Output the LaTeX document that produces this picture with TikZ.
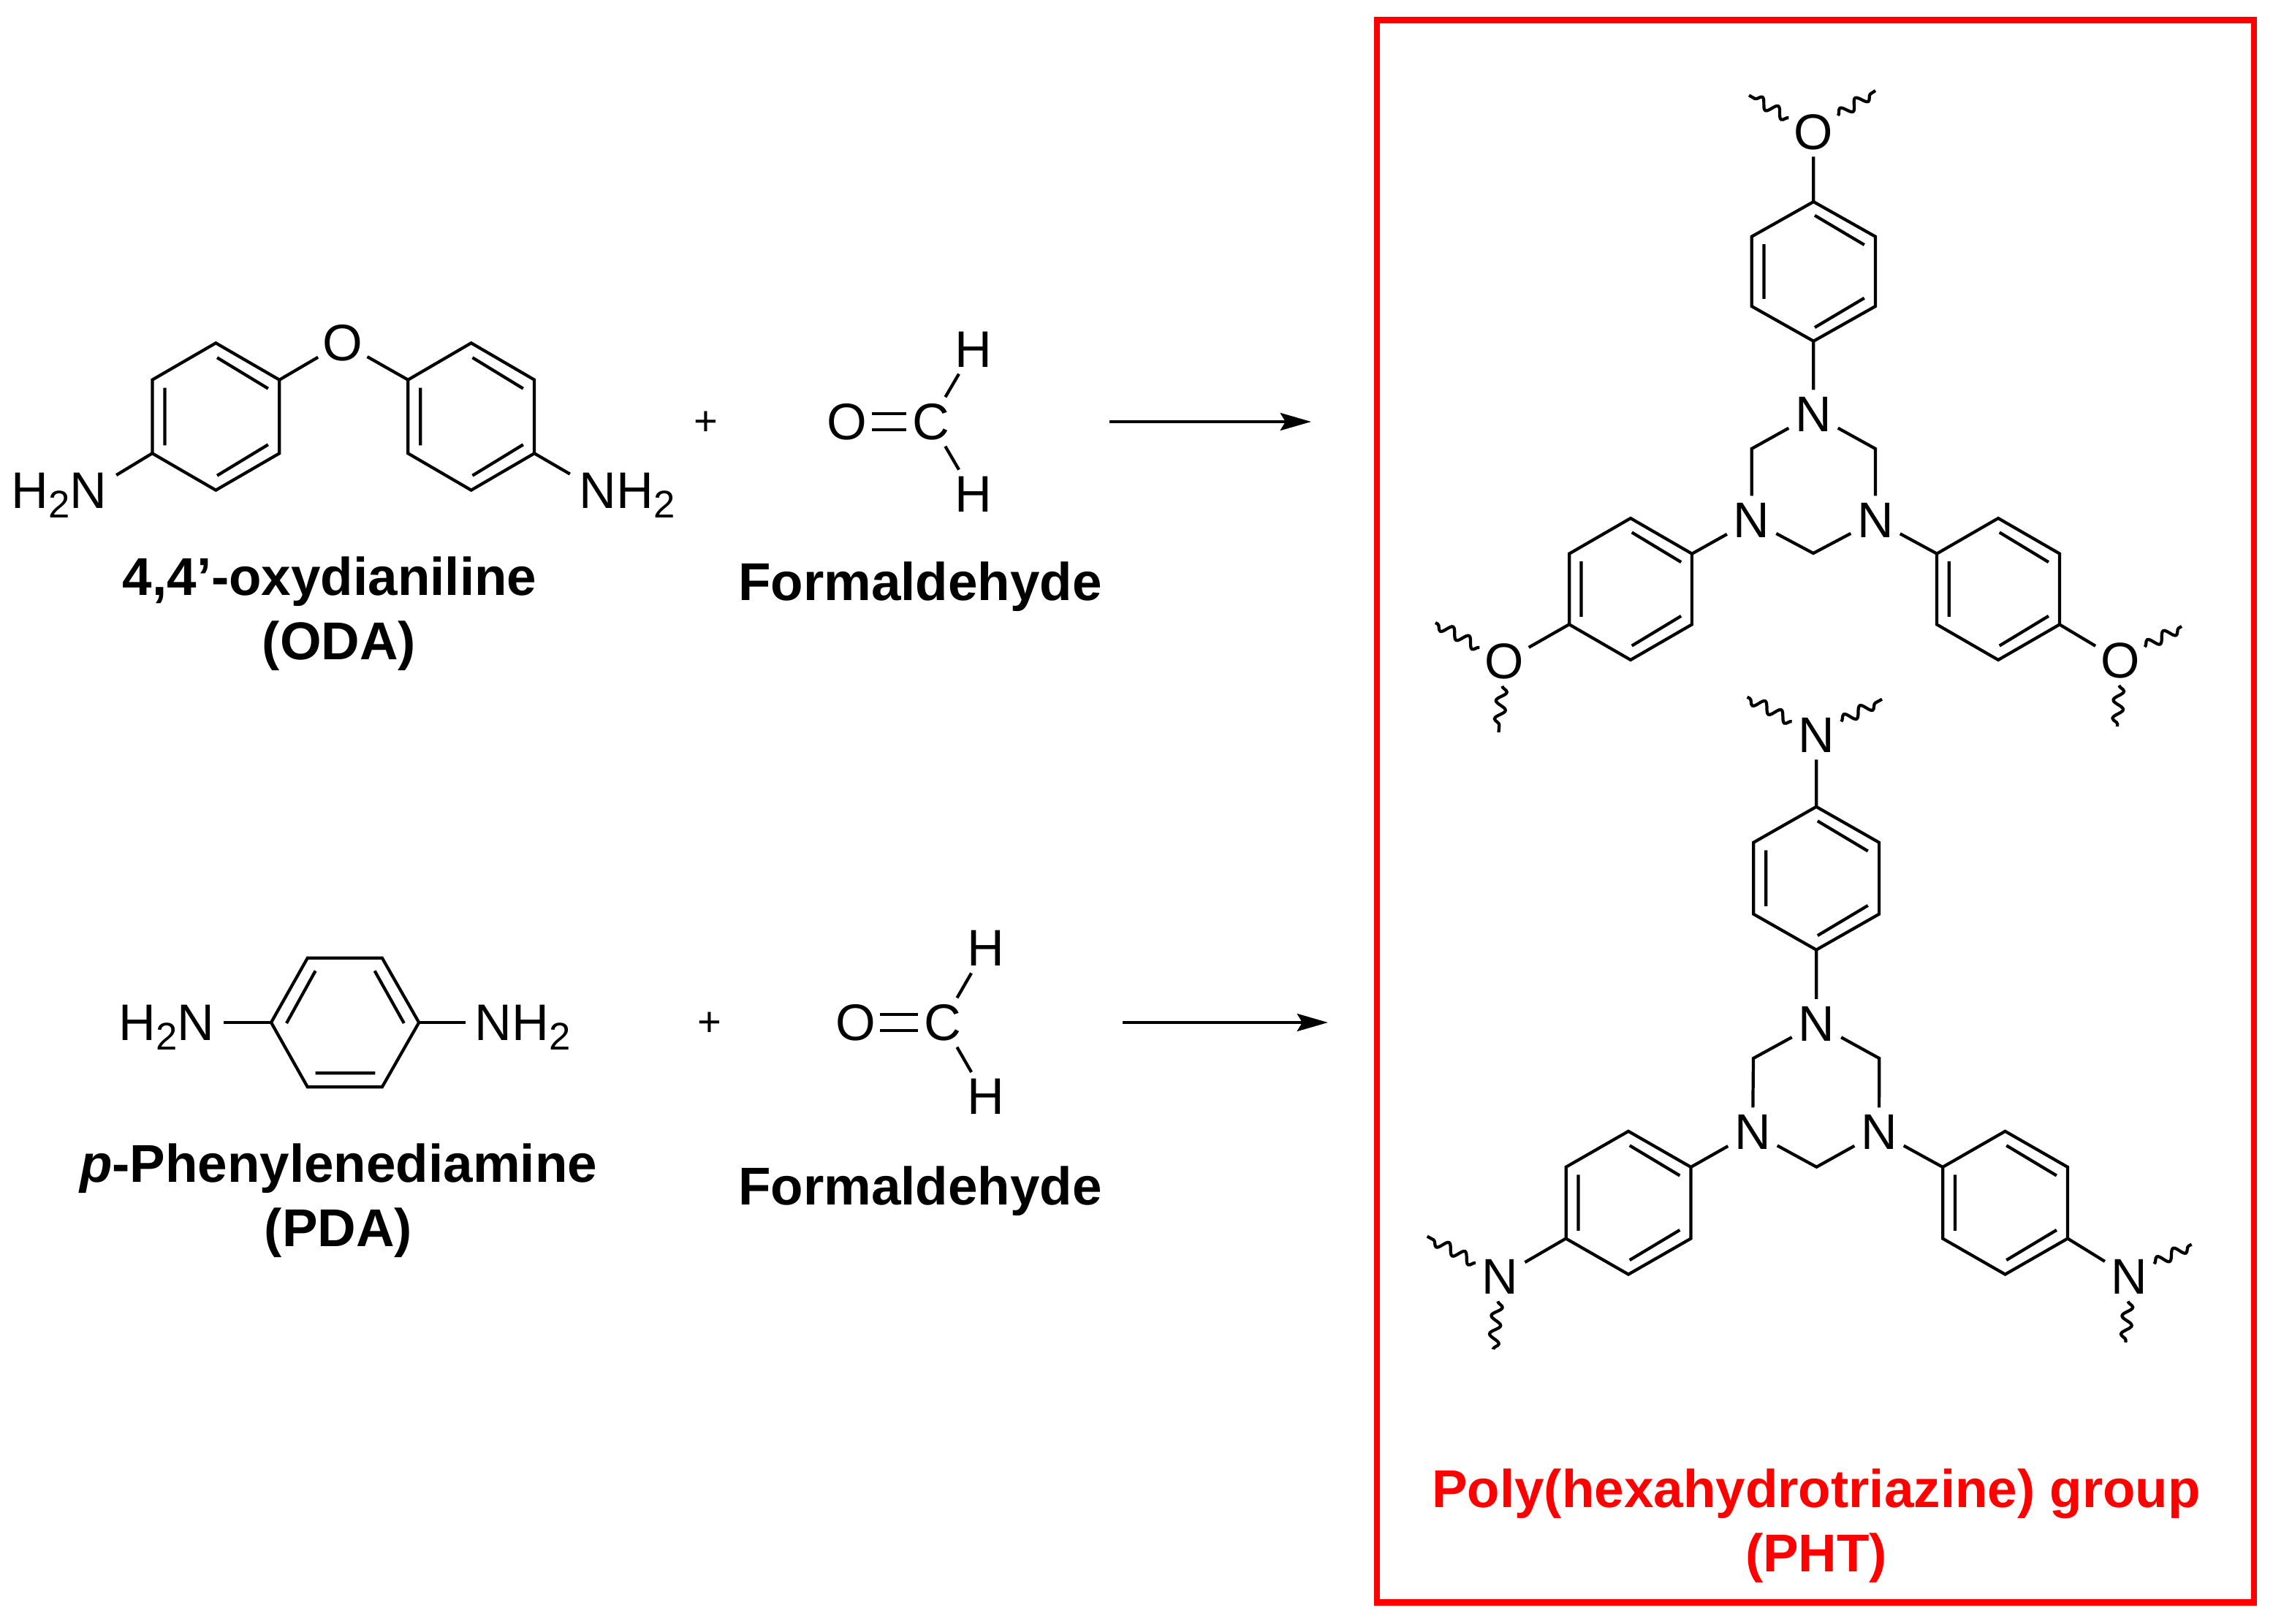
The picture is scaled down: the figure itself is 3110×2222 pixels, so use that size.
\documentclass[tikz,border=0pt]{standalone}
\usepackage{fontspec}
\setmainfont{Liberation Sans}
\usetikzlibrary{arrows.meta}
\usetikzlibrary{decorations.pathmorphing}
\newcommand{\lowtwo}{\raisebox{-3.7pt}{\fontsize{15}{15}\selectfont 2}}
\tikzset{bond/.style={line width=1.2pt, line join=miter}}
\tikzset{dbond/.style={bond, double, double distance=0.174cm}}
\tikzset{wavy/.style={line width=1.2pt, decorate, decoration={snake, amplitude=0.07cm, segment length=0.25cm}}}
\tikzset{atom/.style={inner sep=0pt, minimum size=0.66cm, font=\fontsize{20}{20}\selectfont}}
\tikzset{atomp/.style={atom, font=\fontsize{19.5}{19.5}\selectfont}}
\tikzset{amino/.style={inner sep=0.12cm, text depth=0pt, font=\fontsize{20}{20}\selectfont}}
\tikzset{plus/.style={inner sep=0pt, font=\fontsize{16}{16}\selectfont}}
\tikzset{cname/.style={inner sep=0pt, text height=15.4pt, text depth=4.3pt, font=\bfseries\fontsize{20.7}{24}\selectfont}}
\tikzset{reaction/.style={line width=1.3pt, -{Stealth[length=12pt, width=6.8pt, inset=2pt]}}}
\tikzset{phenyl/.pic={
   \coordinate (-t) at (0,-1);
   \coordinate (-ur) at (1,-0.5);
   \coordinate (-lr) at (1,0.5);
   \coordinate (-b) at (0,1);
   \coordinate (-ll) at (-1,0.5);
   \coordinate (-ul) at (-1,-0.5);
   \draw[bond] (-t) -- (-ur) -- (-lr) -- (-b) -- (-ll) -- (-ul) -- cycle;
   \draw[bond] (0.02,-0.8) -- (0.82,-0.38) (-0.8,-0.39) -- (-0.8,0.39) (0.02,0.8) -- (0.82,0.38);
}}

\begin{document}
\begin{tikzpicture}[x=0.01cm,y=-0.01cm,node distance=0.88cm]
   \useasboundingbox (0,0) rectangle (3110,2222);

   % ODA
   \pic[xscale=87.3,yscale=100.9] (odal) at (295.3,570) {phenyl};
   \pic[xscale=86.7,yscale=100.9] (odar) at (644.7,570) {phenyl};
   \node[atom] (Oo) at (468.8,469) {O};
   \node[amino] (Hl) at (81,671) {H\lowtwo N};
   \node[amino] (Hr) at (858,671) {NH\lowtwo};
   \path[bond]
      (odal-ur) edge (Oo)
      (Oo) edge (odar-ul)
      (Hl.15) edge (odal-ll)
      (Hr.164) edge (odar-lr);
   \node[plus] (plusa) at (966,579) {+};
   \node[cname] (odaname) at (451,794.6) {4,4’-oxydianiline};
   \node[cname] (odaabbr) [below of=odaname,xshift=0.13cm] {(ODA)};

   % formaldehyde, upper
   \node[atom] (Ofa) at (1158.8,577) {O};
   \node[atom] (Cfa) at (1273.7,577) {C};
   \node[atom] (Hfa) at (1331.7,477.9) {H};
   \node[atom] (Hfb) at (1331.7,676.4) {H};
   \draw[dbond] (Ofa) -- (Cfa);
   \path[bond]
      (Cfa) edge (Hfa)
      (Cfa) edge (Hfb);
   \node[cname] (fnamea) at (1259,801.6) {Formaldehyde};
   \coordinate (arsa) at (1517.6,577);
   \coordinate (arta) at (1794,577);
   \draw[reaction] (arsa) -- (arta);

   % PDA
   \coordinate (pul) at (420.8,1310.7);
   \coordinate (pur) at (522.8,1310.7);
   \coordinate (pr) at (573.2,1399);
   \coordinate (plr) at (522.8,1487.3);
   \coordinate (pll) at (420.8,1487.3);
   \coordinate (pl) at (371,1399);
   \draw[bond] (pul) -- (pur) -- (pr) -- (plr) -- (pll) -- (pl) -- cycle;
   \draw[bond] (431.6,1328.3) -- (392,1400) (512.6,1328.3) -- (552.8,1400) (431.6,1468.3) -- (513.3,1468.3);
   \node[amino] (Pl) at (228,1399) {H\lowtwo N};
   \node[amino] (Pr) at (715,1399) {NH\lowtwo};
   \path[bond]
      (Pl) edge (pl)
      (Pr) edge (pr);
   \node[plus] (plusb) at (971,1401) {+};
   \node[cname] (pdaname) at (463,1597.8) {\textit{p}-Phenylenediamine};
   \node[cname] (pdaabbr) [below of=pdaname] {(PDA)};

   % formaldehyde, lower
   \node[atom] (Ofb) at (1170.7,1399) {O};
   \node[atom] (Cfb) at (1290,1399) {C};
   \node[atom] (Hfc) at (1348.5,1297.7) {H};
   \node[atom] (Hfd) at (1348.5,1500.7) {H};
   \draw[dbond] (Ofb) -- (Cfb);
   \path[bond]
      (Cfb) edge (Hfc)
      (Cfb) edge (Hfd);
   \node[cname] (fnameb) at (1259,1628.8) {Formaldehyde};
   \coordinate (arsb) at (1535.5,1399);
   \coordinate (artb) at (1817,1399);
   \draw[reaction] (arsb) -- (artb);

   % red frame
   \draw[red,line width=2.3pt] (1884,27.5) rectangle (3084,2192.5);
   \node[cname,red] (phtname) at (2485,2043.2) {Poly(hexahydrotriazine) group};
   \node[cname,red] (phtabbr) [below of=phtname] {(PHT)};

   % triazine with O ends
   \pic[xscale=84.7,yscale=95.8] (roa) at (2481.3,371.4) {phenyl};
   \pic[xscale=84.3,yscale=97] (rob) at (2231,806) {phenyl};
   \pic[xscale=84,yscale=97] (roc) at (2734,806) {phenyl};
   \node[atomp] (Ta) at (2481,567) {N};
   \node[atomp] (Tb) at (2396.6,712) {N};
   \node[atomp] (Tc) at (2566,712) {N};
   \coordinate (ca) at (2396.6,614);
   \coordinate (cb) at (2566,614);
   \coordinate (cc) at (2481,757);
   \node[atomp] (Oa) at (2481,180.6) {O};
   \node[atomp] (Ob) at (2058,905) {O};
   \node[atomp] (Oc) at (2900.8,904) {O};
   \draw[bond] (Ta) -- (ca) -- (Tb);
   \draw[bond] (Ta) -- (cb) -- (Tc);
   \draw[bond] (Tb) -- (cc) -- (Tc);
   \path[bond]
      (Oa) edge (roa-t)
      (roa-b) edge (Ta)
      (rob-ur) edge (Tb)
      (roc-ul) edge (Tc)
      (rob-ll) edge (Ob)
      (roc-lr) edge (Oc);
   \coordinate (wa) at (2393,130.4);
   \coordinate (wb) at (2566,124);
   \coordinate (wc) at (1964,852);
   \coordinate (wd) at (2050.5,1002);
   \coordinate (we) at (2985,857);
   \coordinate (wf) at (2897,994);
   \draw[wavy] (Oa) -- (wa);
   \draw[wavy] (Oa) -- (wb);
   \draw[wavy] (Ob) -- (wc);
   \draw[wavy] (Ob) -- (wd);
   \draw[wavy] (Oc) -- (we);
   \draw[wavy] (Oc) -- (wf);

   % triazine with N ends
   \pic[xscale=86.1,yscale=98] (rna) at (2485.1,1201.7) {phenyl};
   \pic[xscale=85.8,yscale=98] (rnb) at (2228,1645.7) {phenyl};
   \pic[xscale=85.8,yscale=98] (rnc) at (2743.5,1645.7) {phenyl};
   \node[atomp] (Td) at (2485.4,1400.7) {N};
   \node[atomp] (Te) at (2398,1549) {N};
   \node[atomp] (Tf) at (2571,1549) {N};
   \coordinate (cd) at (2399,1448);
   \coordinate (ce) at (2571.2,1448);
   \coordinate (cf) at (2485.4,1596.7);
   \node[atomp] (Na) at (2485.4,1005.7) {N};
   \node[atomp] (Nb) at (2052.7,1746.7) {N};
   \node[atomp] (Nc) at (2913.6,1746.7) {N};
   \draw[bond] (Td) -- (cd) -- (Te);
   \draw[bond] (Td) -- (ce) -- (Tf);
   \draw[bond] (Te) -- (cf) -- (Tf);
   \path[bond]
      (Na) edge (rna-t)
      (rna-b) edge (Td)
      (rnb-ur) edge (Te)
      (rnc-ul) edge (Tf)
      (rnb-ll) edge (Nb)
      (rnc-lr) edge (Nc);
   \coordinate (wg) at (2390.6,953.7);
   \coordinate (wh) at (2575,956.7);
   \coordinate (wi) at (1952.7,1691.6);
   \coordinate (wj) at (2043,1846);
   \coordinate (wk) at (2998.6,1702.6);
   \coordinate (wl) at (2908.3,1836.7);
   \draw[wavy] (Na) -- (wg);
   \draw[wavy] (Na) -- (wh);
   \draw[wavy] (Nb) -- (wi);
   \draw[wavy] (Nb) -- (wj);
   \draw[wavy] (Nc) -- (wk);
   \draw[wavy] (Nc) -- (wl);
\end{tikzpicture}
\end{document}
